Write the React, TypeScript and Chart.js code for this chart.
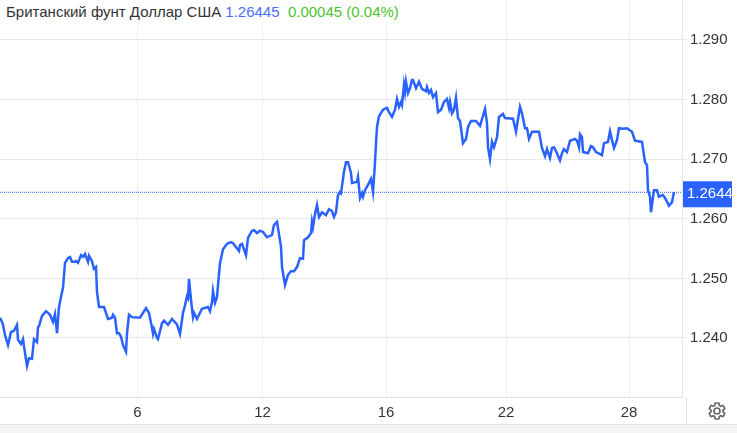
import React, { useEffect, useRef } from "react";
import { Chart, registerables } from "chart.js";

Chart.register(...registerables);

const seriesName = "Британский фунт Доллар США";
const lastPriceText = "1.26445";
const changeText = "0.00045 (0.04%)";
const priceTagText = "1.2644";
const lastPrice = 1.26445;

const dayLabels = ["6", "12", "16", "22", "28"];
const dayPositions = [137.5, 262.5, 386, 506, 629];
const priceTicks = [1.24, 1.25, 1.26, 1.27, 1.28, 1.29];

const timeIndex = [
  0,2,3,5,8,11,14,17,18,21,23,25,27,29,32,34,37,38,39,42,46,50,53,55,57,59,62,63,65,68,70,72,75,76,78,81,83,85,88,89,92,94,96,97,99,104,108,112,113,115,117,119,121,123,126,127,129,132,140,146,149,152,153,154,157,158,162,164,168,172,177,180,183,185,187,188,189,191,193,194,197,199,202,208,210,212,213,215,217,220,223,227,231,233,239,240,242,246,248,252,254,257,260,263,267,272,274,277,281,282,285,288,291,294,297,300,303,304,308,311,312,313,315,317,319,322,326,329,332,334,336,338,340,341,344,346,348,351,352,357,358,359,360,362,363,365,368,371,373,375,376,377,379,383,387,389,392,395,397,399,401,402,404,405,406,408,410,412,413,416,419,422,426,427,429,431,433,436,438,441,444,447,449,450,452,454,456,458,460,463,466,468,471,476,480,485,487,488,490,492,494,497,499,503,505,513,516,520,522,525,527,529,532,539,542,545,547,550,552,554,557,560,562,564,567,570,575,577,579,580,582,583,588,591,593,596,602,604,608,610,612,614,617,619,623,627,632,635,642,645,647,648,650,651,654,657,659,663,665,669,672,674,
];

const prices = [
  1.2434,1.2427,1.2422,1.2405,1.2388,1.241,1.2412,1.2422,1.2397,1.239,1.2398,1.2375,1.2353,1.2366,1.2365,1.2398,1.2393,1.2418,1.242,1.2437,1.2445,1.2439,1.2427,1.244,1.2408,1.2452,1.2477,1.2484,1.2526,1.2534,1.2536,1.2528,1.2528,1.2529,1.2526,1.2539,1.2536,1.2541,1.2528,1.2538,1.2529,1.2516,1.2519,1.2477,1.2452,1.2452,1.2432,1.2434,1.2439,1.2434,1.2408,1.2408,1.2402,1.2388,1.2377,1.2408,1.2439,1.2435,1.2434,1.245,1.2442,1.2417,1.2407,1.2415,1.24,1.2398,1.2425,1.2429,1.2422,1.2432,1.2423,1.2407,1.2442,1.2455,1.247,1.2467,1.2499,1.2464,1.2435,1.2442,1.2432,1.2439,1.2449,1.2452,1.2445,1.246,1.2479,1.2459,1.2469,1.2526,1.2549,1.2558,1.2561,1.2559,1.2546,1.2556,1.2558,1.2539,1.2568,1.258,1.2581,1.2576,1.258,1.2578,1.2569,1.2573,1.259,1.2595,1.2553,1.2519,1.2489,1.2506,1.2512,1.2512,1.2519,1.2534,1.2533,1.2564,1.2569,1.2576,1.2595,1.2586,1.2608,1.2623,1.2603,1.2611,1.2606,1.2616,1.2613,1.2603,1.2611,1.264,1.2645,1.2643,1.2679,1.2695,1.2695,1.2677,1.266,1.2662,1.267,1.2653,1.2635,1.2643,1.2637,1.2648,1.2657,1.2667,1.2645,1.2694,1.2727,1.2754,1.2772,1.2783,1.2786,1.2779,1.2771,1.2783,1.2801,1.2788,1.2796,1.2791,1.2825,1.2813,1.283,1.2811,1.2819,1.2833,1.2833,1.2819,1.283,1.2818,1.2814,1.2821,1.2811,1.2816,1.2804,1.2811,1.2779,1.2783,1.2796,1.2801,1.2786,1.2796,1.2777,1.2783,1.2803,1.2769,1.2764,1.2727,1.2734,1.2754,1.2764,1.2764,1.2756,1.2784,1.2761,1.272,1.27,1.2729,1.272,1.2737,1.2771,1.2776,1.2769,1.2768,1.2746,1.2788,1.2777,1.2752,1.2752,1.2734,1.2746,1.2746,1.2719,1.2705,1.2717,1.2702,1.2719,1.272,1.271,1.2698,1.271,1.2717,1.2712,1.2731,1.2734,1.2731,1.272,1.2742,1.2737,1.2712,1.271,1.2722,1.272,1.2712,1.2707,1.2727,1.2729,1.2747,1.2732,1.2719,1.2732,1.2752,1.2751,1.2752,1.2746,1.2731,1.2729,1.2695,1.269,1.2648,1.2637,1.2611,1.2648,1.2648,1.2637,1.264,1.2635,1.2622,1.2628,1.26445,
];

const BLUE = "#2962ff";
const FONT = '"Liberation Sans", Arial, sans-serif';

const priceTag = {
  id: "priceTag",
  afterDraw(chart: any) {
    const { ctx, scales } = chart;
    const y = scales.y.getPixelForValue(lastPrice);
    ctx.save();
    ctx.fillStyle = BLUE;
    ctx.fillRect(683, y - 11, 49, 26);
    ctx.fillStyle = "#ffffff";
    ctx.font = `15px ${FONT}`;
    ctx.textBaseline = "middle";
    ctx.textAlign = "left";
    ctx.fillText(priceTagText, 687, y + 2);
    ctx.restore();
  },
};

export default function App() {
  const ref = useRef<HTMLCanvasElement>(null);
  useEffect(() => {
    document.body.style.margin = "0";
    const chart = new Chart(ref.current!, {
      type: "line",
      data: {
        datasets: [
          {
            data: [
              { x: 0, y: lastPrice },
              { x: 682, y: lastPrice },
            ],
            borderColor: BLUE,
            borderWidth: 1,
            borderDash: [1, 1],
            pointRadius: 0,
          },
          {
            data: timeIndex.map((x, i) => ({ x, y: prices[i] })),
            borderColor: BLUE,
            borderWidth: 2.5,
            pointRadius: 0,
            tension: 0,
          },
        ],
      },
      options: {
        animation: false,
        responsive: false,
        parsing: false,
        layout: { autoPadding: false, padding: 0 },
        plugins: { legend: { display: false }, tooltip: { enabled: false } },
        scales: {
          x: {
            type: "linear",
            min: 0,
            max: 682,
            afterBuildTicks(axis: any) {
              axis.ticks = dayPositions.map((value) => ({ value }));
            },
            afterFit(axis: any) {
              axis.height = 36;
            },
            border: { color: "#e0e0e0" },
            grid: { color: "#f0f0f0", drawTicks: false },
            ticks: {
              autoSkip: false,
              maxRotation: 0,
              padding: 7,
              color: "#333333",
              font: { family: FONT, size: 15 },
              callback: (value: any) => dayLabels[dayPositions.indexOf(Number(value))] ?? "",
            },
          },
          y: {
            position: "right",
            min: 1.2301,
            max: 1.29671,
            afterBuildTicks(axis: any) {
              axis.ticks = priceTicks.map((value) => ({ value }));
            },
            afterFit(axis: any) {
              axis.width = 55;
              axis.paddingTop = 0;
              axis.paddingBottom = 0;
            },
            border: { color: "#e6e6e6" },
            grid: { color: "#e8e8e8", tickLength: 5 },
            ticks: {
              padding: 3,
              color: "#333333",
              font: { family: FONT, size: 15 },
              callback: (value: any) => Number(value).toFixed(3),
            },
          },
        },
      },
      plugins: [priceTag],
    } as any);
    return () => chart.destroy();
  }, []);

  return (
    <div style={{ position: "relative", width: 737, height: 433, background: "#fff", overflow: "hidden" }}>
      <canvas ref={ref} width={737} height={433} style={{ display: "block", position: "absolute", left: 0, top: 0 }} />
      <div
        style={{
          position: "absolute",
          left: 0,
          top: 0,
          width: 404,
          height: 23,
          paddingLeft: 6,
          boxSizing: "border-box",
          background: "#fff",
          fontFamily: FONT,
          fontSize: 15,
          lineHeight: "24px",
          whiteSpace: "pre",
          color: "#333",
        }}
      >
        {seriesName}
        <span style={{ color: "#4a6cff" }}> {lastPriceText}</span>
        <span style={{ color: "#4cc42b" }}>{"  " + changeText}</span>
      </div>
      <div style={{ position: "absolute", left: 0, right: 0, top: 424, bottom: 0, background: "#f4f4f4", borderTop: "1px solid #e0e0e0" }} />
      <div style={{ position: "absolute", left: 686, top: 397, width: 1, height: 27, background: "#e0e0e0" }} />
      <svg style={{ position: "absolute", left: 707, top: 401 }} width={20} height={20} viewBox="0 0 24 24">
        <path
          fill="none"
          stroke="#666"
          strokeWidth={2}
          d="M19.14 12.94c.04-.3.06-.61.06-.94 0-.32-.02-.64-.07-.94l2.03-1.58c.18-.14.23-.41.12-.61l-1.92-3.32c-.12-.22-.37-.29-.59-.22l-2.39.96c-.5-.38-1.03-.7-1.62-.94l-.36-2.54c-.04-.24-.24-.41-.48-.41h-3.84c-.24 0-.43.17-.47.41l-.36 2.54c-.59.24-1.13.57-1.62.94l-2.39-.96c-.22-.08-.47 0-.59.22L2.74 8.87c-.12.21-.08.47.12.61l2.03 1.58c-.05.3-.09.63-.09.94s.02.64.07.94l-2.03 1.58c-.18.14-.23.41-.12.61l1.92 3.32c.12.22.37.29.59.22l2.39-.96c.5.38 1.03.7 1.62.94l.36 2.54c.05.24.24.41.48.41h3.84c.24 0 .44-.17.47-.41l.36-2.54c.59-.24 1.13-.56 1.62-.94l2.39.96c.22.08.47 0 .59-.22l1.92-3.32c.12-.22.07-.47-.12-.61l-2.01-1.58zM12 15.6c-1.98 0-3.6-1.62-3.6-3.6s1.62-3.6 3.6-3.6 3.6 1.62 3.6 3.6-1.62 3.6-3.6 3.6z"
        />
      </svg>
    </div>
  );
}
